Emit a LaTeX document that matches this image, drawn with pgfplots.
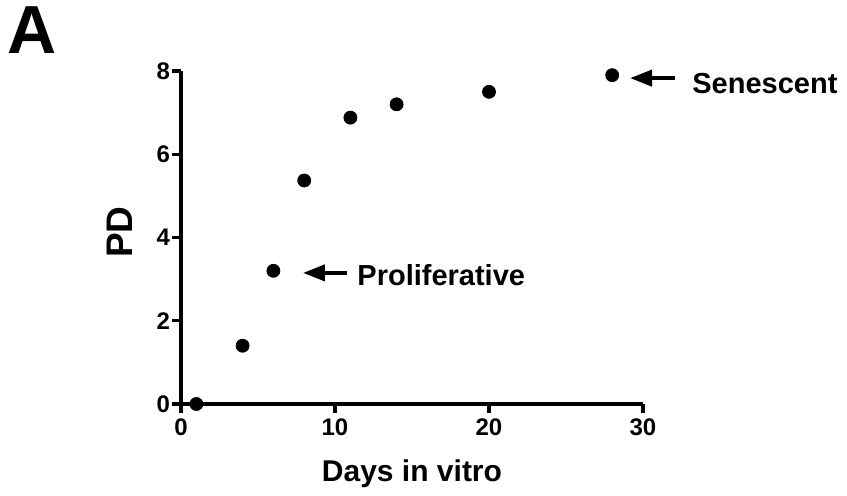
\documentclass[border=0pt]{standalone}
\usepackage{pgfplots}
\pgfplotsset{compat=1.18}
\usetikzlibrary{arrows.meta}
\usepackage{fontspec}
\setmainfont{Liberation Sans}

\begin{document}
\begin{tikzpicture}
\useasboundingbox (-90.5bp,-46bp) rectangle (333bp,202bp);
\begin{axis}[
    at={(0,0)}, anchor=origin,
    scale only axis,
    width=231bp, height=166.5bp,
    xmin=0, xmax=30, ymin=0, ymax=8,
    axis lines=left,
    axis line style={-, line width=1.6bp},
    xtick={0,10,20,30},
    ytick={0,2,4,6,8},
    minor tick num=0,
    tick align=outside,
    major tick length=4.5bp,
    tick style={line width=1.6bp, black},
    /pgf/number format/assume math mode=true,
    ticklabel style={font=\fontsize{12bp}{14bp}\selectfont\bfseries},
    xticklabel style={yshift=0.5bp},
    yticklabel style={xshift=2.5bp},
    xlabel={Days in vitro},
    ylabel={PD},
    xlabel style={font=\fontsize{15bp}{18bp}\selectfont\bfseries, at={(axis description cs:0.5,-0.234)}, anchor=base},
    ylabel style={font=\fontsize{18.5bp}{22bp}\selectfont\bfseries, at={(axis description cs:-0.132,0.516)}, anchor=center},
    clip=false,
]
\addplot[only marks, mark=*, mark size=3.25bp, black] coordinates {
    (1,0) (4,1.4) (6,3.2) (8,5.37) (11,6.88) (14,7.2) (20,7.5) (28,7.9)
};
\draw[line width=2bp, -{Triangle[length=11bp,width=8bp]}] (axis cs:10.78,3.15) -- (axis cs:7.92,3.15);
\node[anchor=base west, inner sep=0pt, font=\fontsize{14.5bp}{17bp}\selectfont\bfseries] at (axis cs:11.43,2.84) {Proliferative};
\draw[line width=2bp, -{Triangle[length=11bp,width=8bp]}] (axis cs:32.08,7.83) -- (axis cs:29.16,7.83);
\node[anchor=base west, inner sep=0pt, font=\fontsize{14.5bp}{17bp}\selectfont\bfseries] at (axis cs:33.18,7.47) {Senescent};
\node[anchor=base west, inner sep=0pt, font=\fontsize{34bp}{40bp}\selectfont\bfseries] at (axis cs:-11.3,8.43) {A};
\end{axis}
\end{tikzpicture}
\end{document}
